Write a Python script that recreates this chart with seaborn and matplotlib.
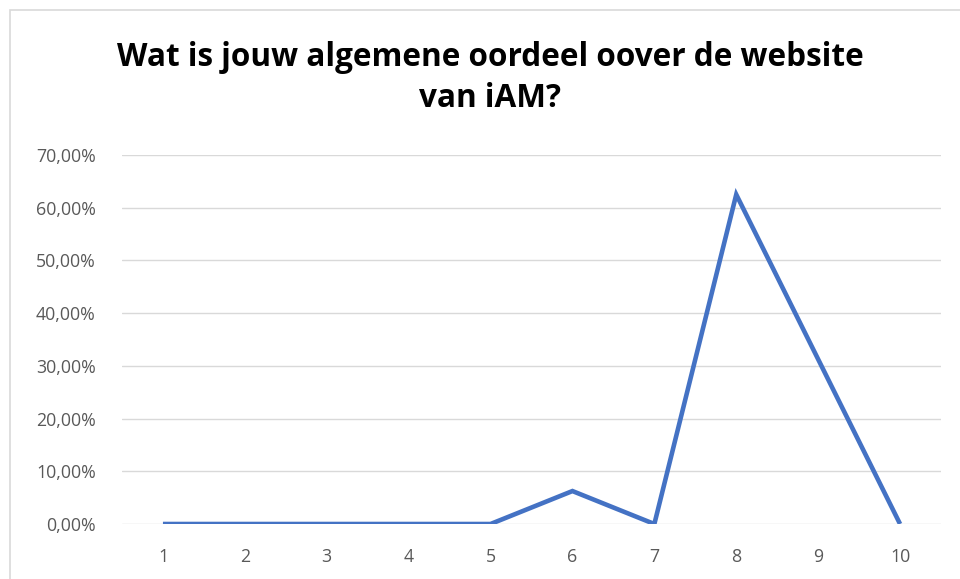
import matplotlib
matplotlib.use("Agg")
import matplotlib.pyplot as plt
import seaborn as sns
import pandas as pd
from matplotlib.patches import Rectangle
from matplotlib.ticker import FuncFormatter

categories = [1, 2, 3, 4, 5, 6, 7, 8, 9, 10]
values = [0.0, 0.0, 0.0, 0.0, 0.0, 6.25, 0.0, 62.5, 31.25, 0.0]
y_ticks = [0, 10, 20, 30, 40, 50, 60, 70]
title = "Wat is jouw algemene oordeel oover de website\nvan iAM?"

sns.set_theme(style="white")
plt.rcParams['font.family'] = ['Open Sans', 'DejaVu Sans']

df = pd.DataFrame({"x": categories, "y": values})

fig = plt.figure(figsize=(9.6, 5.79), dpi=100)
ax = fig.add_axes([122/960, 1-524/579, (941-122)/960, (524-155)/579])

sns.lineplot(data=df, x="x", y="y", ax=ax, color="#4472C4", linewidth=3.3,
             solid_joinstyle="miter", solid_capstyle="butt")

ax.set_xlim(0.5, 10.5)
ax.set_ylim(0, 70)
ax.set_xticks(categories)
ax.set_yticks(y_ticks)
ax.yaxis.set_major_formatter(FuncFormatter(lambda v, p: f"{v:.2f}%".replace(".", ",")))
ax.grid(axis="y", color="#D9D9D9", linewidth=1.0)
ax.set_axisbelow(True)
for s in ax.spines.values():
    s.set_visible(False)
ax.tick_params(axis="both", length=0, labelsize=12.8, labelcolor="#595959")
ax.tick_params(axis="x", pad=17)
ax.tick_params(axis="y", pad=19)
ax.set_xlabel("")
ax.set_ylabel("")

fig.text(490/960, 1-78/579, title, ha="center", va="center", fontsize=22.7,
         fontweight="bold", color="black", linespacing=1.33)

fig.patches.append(Rectangle((10/960, -0.1), 2, 1.1 - 10/579, transform=fig.transFigure,
                             fill=False, edgecolor="#D9D9D9", linewidth=1.2))

fig.savefig("out.png", dpi=100)
